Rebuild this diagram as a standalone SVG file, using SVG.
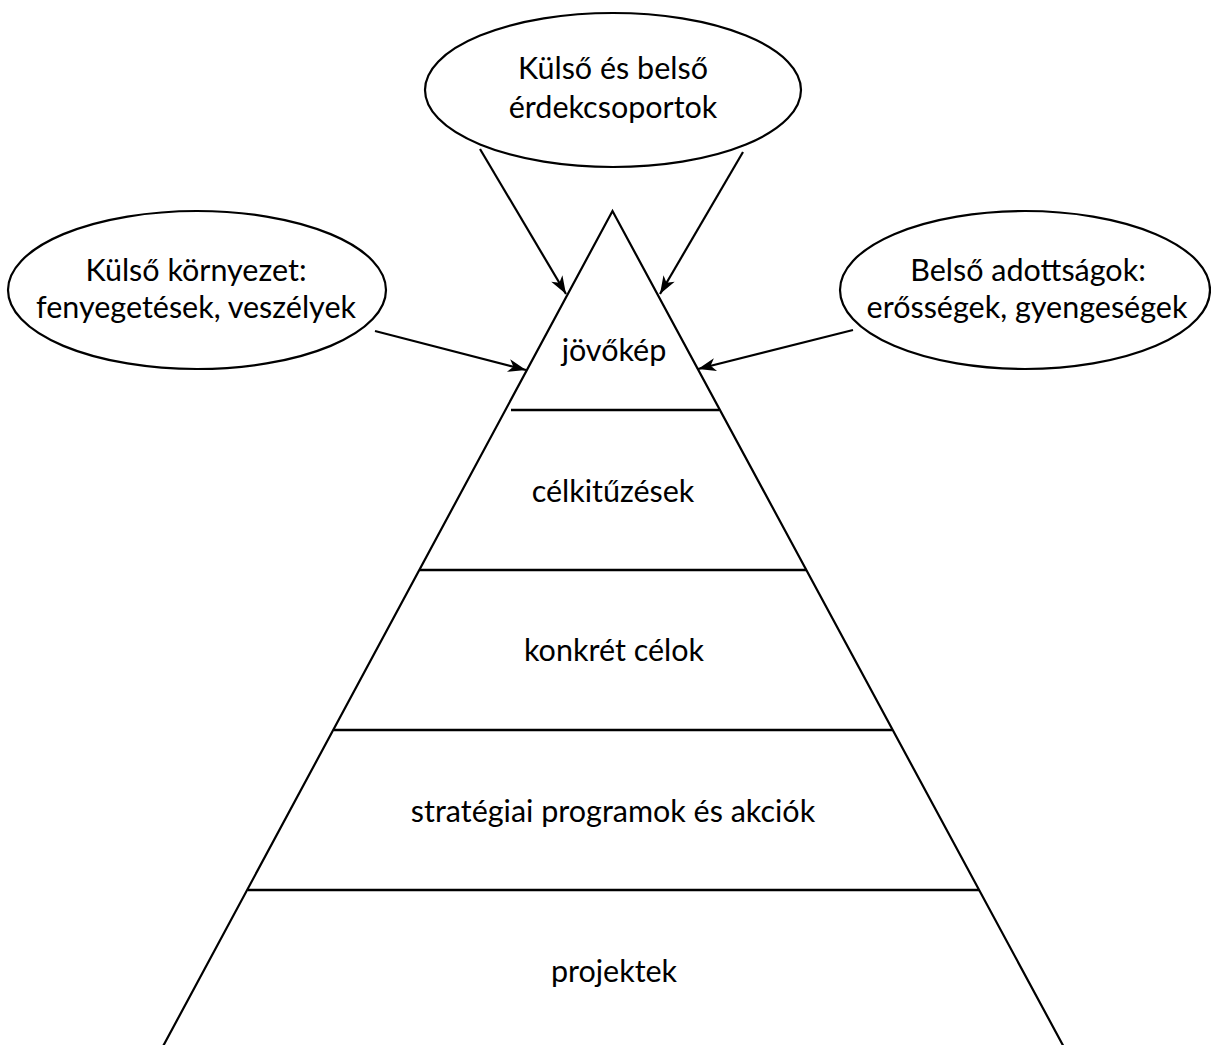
<svg xmlns="http://www.w3.org/2000/svg" width="1211" height="1045" viewBox="0 0 1211 1045">
  <style>
    .bg { fill: #ffffff; }
    .oval { fill: #ffffff; stroke: #000000; stroke-width: 2.2; }
    .side { fill: none; stroke: #000000; stroke-width: 2.2; stroke-linecap: round; stroke-linejoin: miter; }
    .divider { stroke: #000000; stroke-width: 2.6; }
    .arrow { fill: none; stroke: #000000; stroke-width: 2.2; }
    .label { font-family: "Lato", "Noto Sans", "Liberation Sans", sans-serif; font-size: 30.5px; fill: #000000; text-anchor: middle; }
  </style>
  <defs>
    <marker id="head" viewBox="-19 -7 20 14" refX="0" refY="0" markerWidth="20" markerHeight="14" markerUnits="userSpaceOnUse" orient="auto">
      <path d="M0,0 L-18,-6.5 L-13,0 L-18,6.5 Z" fill="#000000"/>
    </marker>
  </defs>

  <rect class="bg" x="0" y="0" width="1211" height="1045"/>

  <!-- pyramid outline -->
  <g id="pyramid">
    <path class="side" d="M161,1050 L612.5,211 L1065.5,1050"/>
  </g>

  <!-- pyramid layers, top to bottom -->
  <g id="layer-jovokep">
    <text class="label" x="614" y="361">jövőkép</text>
    <line class="divider" x1="511" y1="410" x2="719" y2="410"/>
  </g>
  <g id="layer-celkituzesek">
    <text class="label" x="613" y="502">célkitűzések</text>
    <line class="divider" x1="420" y1="570" x2="806" y2="570"/>
  </g>
  <g id="layer-konkret-celok">
    <text class="label" x="614" y="661">konkrét célok</text>
    <line class="divider" x1="334" y1="730" x2="892" y2="730"/>
  </g>
  <g id="layer-strategiai">
    <text class="label" x="613" y="822">stratégiai programok és akciók</text>
    <line class="divider" x1="248" y1="890" x2="979" y2="890"/>
  </g>
  <g id="layer-projektek">
    <text class="label" x="614" y="982">projektek</text>
  </g>

  <!-- influence ovals -->
  <g id="node-erdekcsoportok">
    <ellipse class="oval" cx="613" cy="90" rx="188" ry="77"/>
    <text class="label" x="613" y="79">Külső és belső</text>
    <text class="label" x="613" y="118">érdekcsoportok</text>
  </g>
  <g id="node-kulso-kornyezet">
    <ellipse class="oval" cx="197" cy="290" rx="189" ry="79"/>
    <text class="label" x="196" y="281">Külső környezet:</text>
    <text class="label" x="196" y="318">fenyegetések, veszélyek</text>
  </g>
  <g id="node-belso-adottsagok">
    <ellipse class="oval" cx="1025" cy="290" rx="185" ry="79"/>
    <text class="label" x="1028" y="281">Belső adottságok:</text>
    <text class="label" x="1027" y="318">erősségek, gyengeségek</text>
  </g>

  <!-- connectors: ovals pointing at the vision tier -->
  <g id="connectors">
    <line class="arrow" x1="480" y1="149" x2="566" y2="294" marker-end="url(#head)"/>
    <line class="arrow" x1="743" y1="152" x2="660" y2="294" marker-end="url(#head)"/>
    <line class="arrow" x1="375" y1="331" x2="526" y2="370" marker-end="url(#head)"/>
    <line class="arrow" x1="853" y1="330" x2="698" y2="369" marker-end="url(#head)"/>
  </g>
</svg>
